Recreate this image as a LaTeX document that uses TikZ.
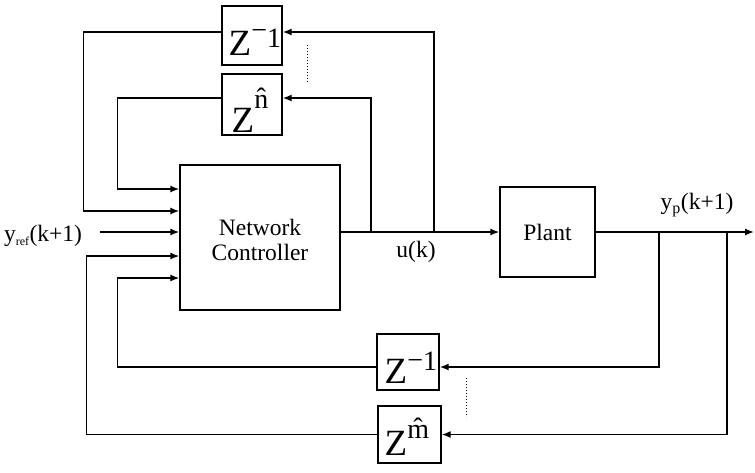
\documentclass[tikz,border=0pt]{standalone}
\usepackage{fontspec}
\setmainfont{Liberation Serif}
\usetikzlibrary{arrows.meta}
\newcommand{\zfs}{\fontsize{37}{37}\selectfont}
\newcommand{\supfs}{\fontsize{28}{28}\selectfont}
\newcommand{\zsup}[2]{\raisebox{#1pt}{\supfs #2}}
\begin{document}
\begin{tikzpicture}[x=1pt,y=-1pt,line width=1.4pt,
  blk/.style={draw,inner sep=0pt},
  lbl/.style={inner sep=0pt,font=\fontsize{23.5}{23.5}\selectfont},
  ztxt/.style={inner sep=0pt,anchor=base west,font=\zfs},
  arr/.style={-{Latex[length=9pt,width=7pt]}},
  dots/.style={line width=0.8pt,dash pattern=on 1pt off 2pt}]
\useasboundingbox (0,0) rectangle (755,472);
% blocks
\node[blk,minimum width=160pt,minimum height=145pt] (ctrl) at (260,237.5) {};
\node[lbl,align=center] (ctrlt) at (260,240) {Network\\[2pt]Controller};
\node[blk,minimum width=95pt,minimum height=90pt] (plant) at (547.5,232) {};
\node[lbl] (plantt) at (547.5,232) {Plant};
\node[blk,minimum width=60pt,minimum height=59pt] (z1) at (252,35.5) {};
\node[blk,minimum width=60pt,minimum height=61pt] (zn) at (252,104.5) {};
\node[blk,minimum width=62pt,minimum height=56pt] (zb1) at (408,362) {};
\node[blk,minimum width=63pt,minimum height=57pt] (zbm) at (409.5,434.5) {};
% block texts
\node[ztxt] (z1t) at (228,55) {Z\zsup{15.5}{−}\zsup{8}{1}};
\node[ztxt] (znt) at (231,132) {Z\zsup{24}{\^{n}}};
\node[ztxt] (zb1t) at (384,383) {Z\zsup{14}{−}\zsup{13}{1}};
\node[ztxt] (zbmt) at (384,455) {Z\zsup{17}{\^{m}}};
% labels
\node[lbl] (yref) at (43,236) {y\textsubscript{\fontsize{12}{12}\selectfont ref}(k+1)};
\node[lbl] (uk) at (416,252) {u(k)};
\node[lbl] (yp) at (697,205) {y\textsubscript{\fontsize{16}{16}\selectfont p}(k+1)};
% junctions and free ends
\coordinate (j1) at (371,232);
\coordinate (j2) at (434,232);
\coordinate (k1) at (659,232);
\coordinate (k2) at (727,232);
\coordinate (out) at (754,232);
\coordinate (yin) at (100,232);
% forward path
\draw[arr] (ctrl.east |- plant.west) -- (plant.west);
\draw[arr] (plant.east) -- (out);
\draw[arr] (yin) -- ([yshift=5.5pt]ctrl.west);
% controller output feedback
\draw[arr] (j1) |- ([yshift=6.5pt]zn.east);
\draw[arr] (j2) |- ([yshift=3.5pt]z1.east);
\draw[arr] ([yshift=3.5pt]z1.west) -- ++(-138,0) |- ([yshift=26.5pt]ctrl.west);
\draw[arr] ([yshift=6.5pt]zn.west) -- ++(-104,0) |- ([yshift=48.5pt]ctrl.west);
% plant output feedback
\draw[arr] (k1) |- ([yshift=-5pt]zb1.east);
\draw[arr] (k2) |- (zbm.east);
\draw[arr] ([yshift=-5pt]zb1.west) -| ([xshift=-62pt,yshift=-40.5pt]ctrl.west) -- ([yshift=-40.5pt]ctrl.west);
\draw[arr] (zbm.west) -| ([xshift=-93pt,yshift=-18.5pt]ctrl.west) -- ([yshift=-18.5pt]ctrl.west);
% dotted continuation marks
\coordinate (d1a) at (307,45);
\coordinate (d1b) at (307,82);
\coordinate (d2a) at (466,378);
\coordinate (d2b) at (466,417);
\draw[dots] (d1a) -- (d1b);
\draw[dots] (d2a) -- (d2b);
\end{tikzpicture}
\end{document}
